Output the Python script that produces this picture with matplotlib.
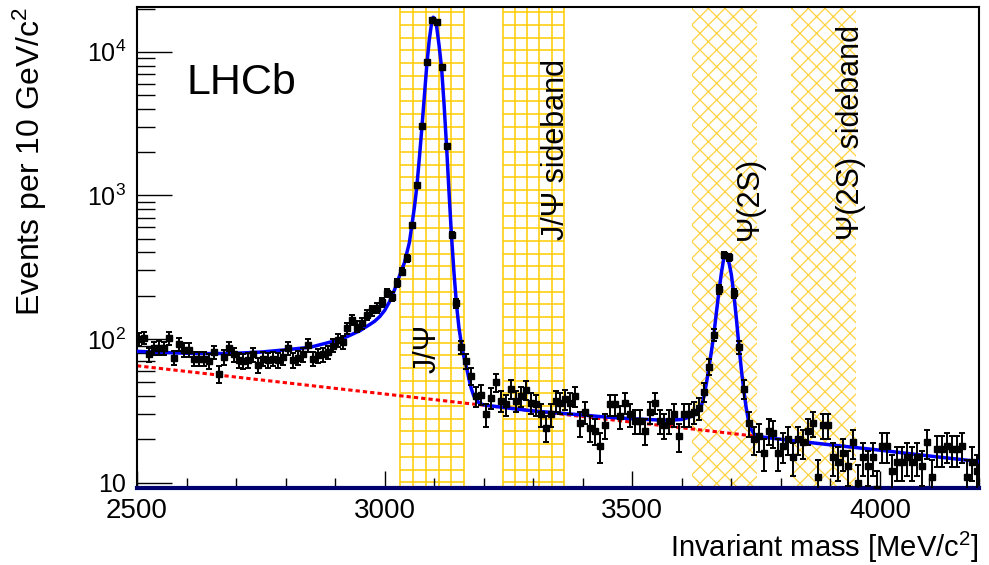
import numpy as np
import matplotlib
matplotlib.use("Agg")
import matplotlib.pyplot as plt
from matplotlib.ticker import MultipleLocator, FixedLocator, LogLocator, NullFormatter
from matplotlib.transforms import blended_transform_factory

plt.rcParams['font.family'] = ['Liberation Sans', 'DejaVu Sans']
plt.rcParams['mathtext.default'] = 'regular'
plt.rcParams['hatch.linewidth'] = 0.9

# binned data: 10 MeV bins from 2500 to 4200
bin_lo, bin_hi, bin_w = 2500, 4200, 10
counts = [
    100, 102, 78, 86, 87, 86, 101, 74, 92, 84,
    84, 73, 73, 73, 70, 81, 57, 75, 86, 78,
    71, 70, 71, 78, 66, 73, 71, 73, 71, 75,
    86, 71, 74, 78, 91, 73, 77, 78, 81, 90,
    98, 95, 119, 136, 122, 129, 147, 158, 165, 180,
    210, 197, 244, 294, 365, 622, 1183, 3048, 8550, 16700,
    16100, 7780, 2214, 531, 177, 88, 70, 55, 40, 41,
    30, 39, 50, 37, 35, 45, 37, 40, 44, 36,
    35, 30, 24, 30, 37, 36, 38, 36, 40, 26,
    31, 24, 23, 18, 25, 35, 35, 29, 36, 30,
    27, 27, 23, 31, 36, 27, 25, 27, 30, 21,
    30, 30, 31, 33, 43, 64, 107, 222, 385, 371,
    208, 88, 45, 26, 20, 21, 16, 23, 22, 16,
    18, 20, 15, 20, 19, 23, 26, 11, 25, 25,
    15, 14, 16, 13, 19, 10, 15, 13, 15, 9,
    18, 18, 12, 14, 14, 15, 14, 15, 13, 19,
    11, 17, 17, 18, 17, 17, 18, 11, 14, 12,
]

# total fit
fit_mass = [2500, 2550, 2600, 2650, 2700, 2750, 2800, 2850, 2900, 2925,
            2940, 2950, 2960, 2970, 2980, 2990, 3000, 3010, 3020, 3030,
            3040, 3050, 3055, 3060, 3065, 3070, 3075, 3080, 3085, 3090,
            3095, 3098, 3101, 3105, 3110, 3115, 3120, 3125, 3130, 3135,
            3140, 3145, 3150, 3155, 3160, 3165, 3170, 3175, 3180, 3190,
            3200, 3250, 3300, 3350, 3400, 3450, 3500, 3550, 3580, 3600,
            3615, 3625, 3630, 3637, 3645, 3650, 3655, 3660, 3665, 3670,
            3675, 3680, 3685, 3688, 3692, 3696, 3700, 3705, 3710, 3715,
            3720, 3725, 3730, 3735, 3740, 3745, 3750, 3760, 3800, 3900,
            4000, 4100, 4200]
fit_events = [82, 80.5, 79.5, 79, 79.5, 81, 84, 87.5, 97, 104,
              110, 114, 120, 126, 133, 143, 158, 182, 220, 275,
              340, 470, 620, 820, 1150, 1800, 2900, 4800, 8000, 12000,
              16000, 17400, 17000, 15000, 11000, 7700, 4300, 2200, 1050, 520,
              290, 175, 120, 92, 75, 64, 53, 45, 40, 36,
              34.7, 33, 31.5, 30.5, 29.5, 28.5, 27.8, 27.3, 27.2, 27.5,
              28.5, 29.5, 30.5, 32, 40, 50, 64, 83, 110, 155,
              215, 290, 370, 385, 370, 330, 280, 205, 140, 92,
              62, 44, 33, 26.5, 23.5, 22, 21.2, 20.8, 20, 18.3,
              16.8, 15.3, 14]

# combinatorial background (red dotted)
bkg_mass = [2500, 3750]
bkg_events = [65, 21]

# selection windows
jpsi_win = (3032, 3160)
jpsi_side = (3238, 3362)
psi2s_win = (3620, 3751)
psi2s_side = (3820, 3951)

band_labels = ["J/Ψ", "J/Ψ sideband", "Ψ(2S)", "Ψ(2S) sideband"]

mass = np.arange(bin_lo + bin_w / 2, bin_hi, bin_w)
counts = np.array(counts, dtype=float)
errs = np.sqrt(counts)

gold = '#FFCC00'

fig = plt.figure(figsize=(9.89, 5.65), dpi=100)
ax = fig.add_axes([0.1385, 0.1363, 0.8514, 0.8513])
mix = blended_transform_factory(ax.transData, ax.transAxes)


def grid_band(lo, hi):
    # square grid hatch drawn as lines
    ax.vlines(np.linspace(lo, hi, 6), 0, 1, transform=mix, color=gold, lw=1.1, zorder=0)
    ax.hlines(np.arange(0.012, 1.0, 0.0264), lo, hi, transform=mix, color=gold, lw=1.1, zorder=0)


grid_band(*jpsi_win)
grid_band(*jpsi_side)
for lo, hi in (psi2s_win, psi2s_side):
    ax.axvspan(lo, hi, facecolor='none', edgecolor='#FFD23F', hatch='xx', lw=0, zorder=0)

ax.plot(bkg_mass, bkg_events, color='red', lw=2.2, dashes=(1.4, 1.0), zorder=2)
ax.plot(fit_mass, fit_events, color='#0000FF', lw=2.5, zorder=3)
ax.errorbar(mass, counts, yerr=errs, fmt='s', ms=4, color='black', ecolor='black',
            elinewidth=1.4, capsize=2, capthick=1.4, zorder=4)

ax.set_xlim(bin_lo, bin_hi)
ax.set_yscale('log')
ax.set_ylim(9.16, 20500)

ax.xaxis.set_major_locator(MultipleLocator(500))
ax.xaxis.set_minor_locator(MultipleLocator(100))
ax.yaxis.set_major_locator(FixedLocator([10, 100, 1000, 10000]))
ax.set_yticklabels(['10', '$10^{2}$', '$10^{3}$', '$10^{4}$'])
ax.yaxis.set_minor_locator(LogLocator(base=10, subs=np.arange(2, 10)))
ax.yaxis.set_minor_formatter(NullFormatter())

ax.tick_params(axis='x', which='major', direction='in', length=12, width=1, labelsize=20, pad=7)
ax.tick_params(axis='x', which='minor', direction='in', length=7, width=1)
ax.tick_params(axis='y', which='major', direction='in', length=25, width=1, labelsize=18, pad=8)
ax.tick_params(axis='y', which='minor', direction='in', length=13, width=1)

for s in ax.spines.values():
    s.set_linewidth(1.5)
ax.spines['bottom'].set_color('#000070')
ax.spines['bottom'].set_linewidth(3)

ax.set_xlabel('Invariant mass [MeV/c$^{2}$]', fontsize=21, loc='right')
ax.xaxis.set_label_coords(1.0, -0.086)
ax.set_ylabel('Events per 10 GeV/c$^{2}$', fontsize=23, loc='top')
ax.yaxis.set_label_coords(-0.1045, 1.0)

ax.text(0.0594, 0.819, 'LHCb', transform=ax.transAxes, fontsize=31, va='baseline', ha='left')

label_x = [3086, 3346, 3738, 3942]
label_y = [0.239, 0.5156, 0.5156, 0.5156]
for lx, ly, t in zip(label_x, label_y, band_labels):
    ax.text(lx, ly, t, transform=mix, rotation=90, ha='center', va='bottom', fontsize=22, zorder=5)

fig.savefig('out.png', dpi=100)
